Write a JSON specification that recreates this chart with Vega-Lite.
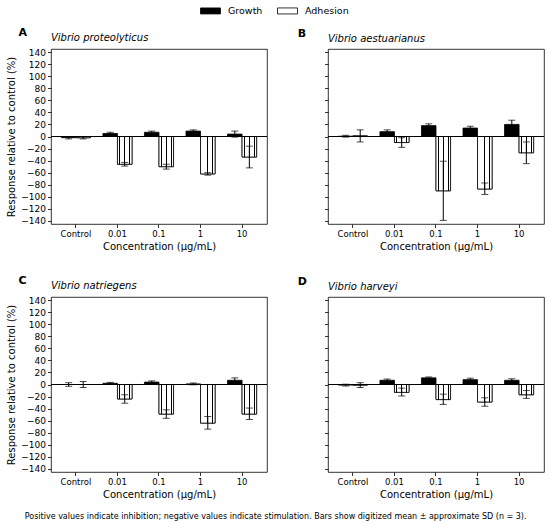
{
  "$schema": "https://vega.github.io/schema/vega-lite/v6.json",
  "padding": {"left": 6, "top": 0, "right": 5, "bottom": 5},
  "data": {
    "values": [
      {"panel": "A", "conc": "Control", "series": "Growth", "value": -2, "lo": -4, "hi": 0},
      {"panel": "A", "conc": "Control", "series": "Adhesion", "value": -2, "lo": -4, "hi": 0},
      {"panel": "A", "conc": "0.01", "series": "Growth", "value": 5, "lo": 3, "hi": 7},
      {"panel": "A", "conc": "0.01", "series": "Adhesion", "value": -46, "lo": -49, "hi": -43},
      {"panel": "A", "conc": "0.1", "series": "Growth", "value": 7, "lo": 5, "hi": 9},
      {"panel": "A", "conc": "0.1", "series": "Adhesion", "value": -50, "lo": -54, "hi": -46},
      {"panel": "A", "conc": "1", "series": "Growth", "value": 9, "lo": 7, "hi": 11},
      {"panel": "A", "conc": "1", "series": "Adhesion", "value": -62, "lo": -64, "hi": -60},
      {"panel": "A", "conc": "10", "series": "Growth", "value": 4, "lo": -1, "hi": 9},
      {"panel": "A", "conc": "10", "series": "Adhesion", "value": -34, "lo": -52, "hi": -16},
      {"panel": "B", "conc": "Control", "series": "Growth", "value": 0.5, "lo": -1, "hi": 2},
      {"panel": "B", "conc": "Control", "series": "Adhesion", "value": 1, "lo": -9, "hi": 11},
      {"panel": "B", "conc": "0.01", "series": "Growth", "value": 8, "lo": 6, "hi": 11},
      {"panel": "B", "conc": "0.01", "series": "Adhesion", "value": -10, "lo": -18, "hi": -2},
      {"panel": "B", "conc": "0.1", "series": "Growth", "value": 18, "lo": 15, "hi": 21},
      {"panel": "B", "conc": "0.1", "series": "Adhesion", "value": -90, "lo": -139, "hi": -41},
      {"panel": "B", "conc": "1", "series": "Growth", "value": 14, "lo": 12, "hi": 17},
      {"panel": "B", "conc": "1", "series": "Adhesion", "value": -87, "lo": -96, "hi": -77},
      {"panel": "B", "conc": "10", "series": "Growth", "value": 20, "lo": 13, "hi": 27},
      {"panel": "B", "conc": "10", "series": "Adhesion", "value": -27, "lo": -45, "hi": -9},
      {"panel": "C", "conc": "Control", "series": "Growth", "value": 0, "lo": -3, "hi": 3},
      {"panel": "C", "conc": "Control", "series": "Adhesion", "value": 0, "lo": -5, "hi": 5},
      {"panel": "C", "conc": "0.01", "series": "Growth", "value": 2, "lo": 1, "hi": 3.5},
      {"panel": "C", "conc": "0.01", "series": "Adhesion", "value": -24, "lo": -31, "hi": -17},
      {"panel": "C", "conc": "0.1", "series": "Growth", "value": 4, "lo": 2, "hi": 6},
      {"panel": "C", "conc": "0.1", "series": "Adhesion", "value": -49, "lo": -56, "hi": -42},
      {"panel": "C", "conc": "1", "series": "Growth", "value": 1, "lo": -0.5, "hi": 2.5},
      {"panel": "C", "conc": "1", "series": "Adhesion", "value": -64, "lo": -74, "hi": -53},
      {"panel": "C", "conc": "10", "series": "Growth", "value": 7, "lo": 3, "hi": 11},
      {"panel": "C", "conc": "10", "series": "Adhesion", "value": -49, "lo": -58, "hi": -39},
      {"panel": "D", "conc": "Control", "series": "Growth", "value": -1, "lo": -2.5, "hi": 0.5},
      {"panel": "D", "conc": "Control", "series": "Adhesion", "value": -1, "lo": -5, "hi": 3},
      {"panel": "D", "conc": "0.01", "series": "Growth", "value": 7, "lo": 5, "hi": 9},
      {"panel": "D", "conc": "0.01", "series": "Adhesion", "value": -13, "lo": -19, "hi": -6},
      {"panel": "D", "conc": "0.1", "series": "Growth", "value": 11, "lo": 9.5, "hi": 12.5},
      {"panel": "D", "conc": "0.1", "series": "Adhesion", "value": -25, "lo": -33, "hi": -16},
      {"panel": "D", "conc": "1", "series": "Growth", "value": 8, "lo": 5.5, "hi": 10.5},
      {"panel": "D", "conc": "1", "series": "Adhesion", "value": -29, "lo": -36, "hi": -22},
      {"panel": "D", "conc": "10", "series": "Growth", "value": 7, "lo": 4.5, "hi": 9.5},
      {"panel": "D", "conc": "10", "series": "Adhesion", "value": -17, "lo": -23, "hi": -10}
    ]
  },
  "title": {
    "text": "Positive values indicate inhibition; negative values indicate stimulation. Bars show digitized mean ± approximate SD (n = 3).",
    "orient": "bottom", "anchor": "middle", "fontSize": 8, "fontWeight": "normal", "offset": 14
  },
  "columns": 2,
  "spacing": {"column": 29, "row": 22},
  "concat": [
    {
      "title": {"text": "A", "anchor": "start", "dx": 12, "offset": -5, "fontSize": 11, "fontWeight": "bold"},
      "vconcat": [{
        "width": 216, "height": 175,
        "title": {"text": "Vibrio proteolyticus", "anchor": "start", "frame": "group", "offset": 5, "fontSize": 10, "fontStyle": "italic", "fontWeight": "normal"},
        "transform": [{"filter": "datum.panel === 'A'"}],
        "layer": [
          {"mark": {"type": "bar", "stroke": "black", "strokeWidth": 0.8},
           "encoding": {
             "x": {"field": "conc", "type": "nominal", "sort": ["Control", "0.01", "0.1", "1", "10"], "scale": {"paddingInner": 0.3, "paddingOuter": 0.25}, "axis": {"title": "Concentration (μg/mL)", "labelAngle": 0}},
             "xOffset": {"field": "series", "type": "nominal", "sort": ["Growth", "Adhesion"], "scale": {"paddingInner": 0, "paddingOuter": 0}},
             "y": {"field": "value", "type": "quantitative", "scale": {"domain": [-145, 145], "nice": false}, "axis": {"title": "Response relative to control (%)", "tickCount": 20, "values": [-140, -120, -100, -80, -60, -40, -20, 0, 20, 40, 60, 80, 100, 120, 140]}},
             "color": {"field": "series", "type": "nominal", "sort": ["Growth", "Adhesion"], "scale": {"domain": ["Growth", "Adhesion"], "range": ["black", "white"]}}
           }},
          {"transform": [{"filter": "datum.series === 'Adhesion'"}],
           "mark": {"type": "bar", "stroke": "black", "strokeWidth": 0.8, "fill": {"gradient": "linear", "x1": 0, "y1": 0, "x2": 1, "y2": 0, "stops": [{"offset": 0, "color": "white"}, {"offset": 0.14, "color": "white"}, {"offset": 0.14, "color": "black"}, {"offset": 0.2, "color": "black"}, {"offset": 0.2, "color": "white"}, {"offset": 0.47, "color": "white"}, {"offset": 0.47, "color": "black"}, {"offset": 0.53, "color": "black"}, {"offset": 0.53, "color": "white"}, {"offset": 0.8, "color": "white"}, {"offset": 0.8, "color": "black"}, {"offset": 0.86, "color": "black"}, {"offset": 0.86, "color": "white"}, {"offset": 1, "color": "white"}]}},
           "encoding": {
             "x": {"field": "conc", "type": "nominal", "sort": ["Control", "0.01", "0.1", "1", "10"]},
             "xOffset": {"field": "series", "type": "nominal", "sort": ["Growth", "Adhesion"]},
             "y": {"field": "value", "type": "quantitative", "title": "Response relative to control (%)"}
           }},
          {"mark": {"type": "rule", "color": "black", "strokeWidth": 1}, "encoding": {"y": {"datum": 0}}},
          {"mark": {"type": "rule", "color": "black", "strokeWidth": 1},
           "encoding": {
             "x": {"field": "conc", "type": "nominal", "sort": ["Control", "0.01", "0.1", "1", "10"]},
             "xOffset": {"field": "series", "type": "nominal", "sort": ["Growth", "Adhesion"]},
             "y": {"field": "lo", "type": "quantitative", "title": "Response relative to control (%)"},
             "y2": {"field": "hi"}
           }},
          {"mark": {"type": "tick", "color": "black", "size": 7, "thickness": 1},
           "encoding": {
             "x": {"field": "conc", "type": "nominal", "sort": ["Control", "0.01", "0.1", "1", "10"]},
             "xOffset": {"field": "series", "type": "nominal", "sort": ["Growth", "Adhesion"]},
             "y": {"field": "lo", "type": "quantitative", "title": "Response relative to control (%)"}
           }},
          {"mark": {"type": "tick", "color": "black", "size": 7, "thickness": 1},
           "encoding": {
             "x": {"field": "conc", "type": "nominal", "sort": ["Control", "0.01", "0.1", "1", "10"]},
             "xOffset": {"field": "series", "type": "nominal", "sort": ["Growth", "Adhesion"]},
             "y": {"field": "hi", "type": "quantitative", "title": "Response relative to control (%)"}
           }}
        ]
      }]
    },
    {
      "title": {"text": "B", "anchor": "start", "dx": -26, "offset": -5, "fontSize": 11, "fontWeight": "bold"},
      "vconcat": [{
        "width": 216, "height": 175,
        "title": {"text": "Vibrio aestuarianus", "anchor": "start", "frame": "group", "offset": 5, "fontSize": 10, "fontStyle": "italic", "fontWeight": "normal"},
        "transform": [{"filter": "datum.panel === 'B'"}],
        "layer": [
          {"mark": {"type": "bar", "stroke": "black", "strokeWidth": 0.8},
           "encoding": {
             "x": {"field": "conc", "type": "nominal", "sort": ["Control", "0.01", "0.1", "1", "10"], "scale": {"paddingInner": 0.3, "paddingOuter": 0.25}, "axis": {"title": "Concentration (μg/mL)", "labelAngle": 0}},
             "xOffset": {"field": "series", "type": "nominal", "sort": ["Growth", "Adhesion"], "scale": {"paddingInner": 0, "paddingOuter": 0}},
             "y": {"field": "value", "type": "quantitative", "scale": {"domain": [-145, 145], "nice": false}, "axis": {"title": null, "labels": false, "tickCount": 20, "values": [-140, -120, -100, -80, -60, -40, -20, 0, 20, 40, 60, 80, 100, 120, 140]}},
             "color": {"field": "series", "type": "nominal", "sort": ["Growth", "Adhesion"]}
           }},
          {"transform": [{"filter": "datum.series === 'Adhesion'"}],
           "mark": {"type": "bar", "stroke": "black", "strokeWidth": 0.8, "fill": {"gradient": "linear", "x1": 0, "y1": 0, "x2": 1, "y2": 0, "stops": [{"offset": 0, "color": "white"}, {"offset": 0.14, "color": "white"}, {"offset": 0.14, "color": "black"}, {"offset": 0.2, "color": "black"}, {"offset": 0.2, "color": "white"}, {"offset": 0.47, "color": "white"}, {"offset": 0.47, "color": "black"}, {"offset": 0.53, "color": "black"}, {"offset": 0.53, "color": "white"}, {"offset": 0.8, "color": "white"}, {"offset": 0.8, "color": "black"}, {"offset": 0.86, "color": "black"}, {"offset": 0.86, "color": "white"}, {"offset": 1, "color": "white"}]}},
           "encoding": {
             "x": {"field": "conc", "type": "nominal", "sort": ["Control", "0.01", "0.1", "1", "10"]},
             "xOffset": {"field": "series", "type": "nominal", "sort": ["Growth", "Adhesion"]},
             "y": {"field": "value", "type": "quantitative", "title": null}
           }},
          {"mark": {"type": "rule", "color": "black", "strokeWidth": 1}, "encoding": {"y": {"datum": 0}}},
          {"mark": {"type": "rule", "color": "black", "strokeWidth": 1},
           "encoding": {
             "x": {"field": "conc", "type": "nominal", "sort": ["Control", "0.01", "0.1", "1", "10"]},
             "xOffset": {"field": "series", "type": "nominal", "sort": ["Growth", "Adhesion"]},
             "y": {"field": "lo", "type": "quantitative", "title": null},
             "y2": {"field": "hi"}
           }},
          {"mark": {"type": "tick", "color": "black", "size": 7, "thickness": 1},
           "encoding": {
             "x": {"field": "conc", "type": "nominal", "sort": ["Control", "0.01", "0.1", "1", "10"]},
             "xOffset": {"field": "series", "type": "nominal", "sort": ["Growth", "Adhesion"]},
             "y": {"field": "lo", "type": "quantitative", "title": null}
           }},
          {"mark": {"type": "tick", "color": "black", "size": 7, "thickness": 1},
           "encoding": {
             "x": {"field": "conc", "type": "nominal", "sort": ["Control", "0.01", "0.1", "1", "10"]},
             "xOffset": {"field": "series", "type": "nominal", "sort": ["Growth", "Adhesion"]},
             "y": {"field": "hi", "type": "quantitative", "title": null}
           }}
        ]
      }]
    },
    {
      "title": {"text": "C", "anchor": "start", "dx": 12, "offset": -5, "fontSize": 11, "fontWeight": "bold"},
      "vconcat": [{
        "width": 216, "height": 175,
        "title": {"text": "Vibrio natriegens", "anchor": "start", "frame": "group", "offset": 5, "fontSize": 10, "fontStyle": "italic", "fontWeight": "normal"},
        "transform": [{"filter": "datum.panel === 'C'"}],
        "layer": [
          {"mark": {"type": "bar", "stroke": "black", "strokeWidth": 0.8},
           "encoding": {
             "x": {"field": "conc", "type": "nominal", "sort": ["Control", "0.01", "0.1", "1", "10"], "scale": {"paddingInner": 0.3, "paddingOuter": 0.25}, "axis": {"title": "Concentration (μg/mL)", "labelAngle": 0}},
             "xOffset": {"field": "series", "type": "nominal", "sort": ["Growth", "Adhesion"], "scale": {"paddingInner": 0, "paddingOuter": 0}},
             "y": {"field": "value", "type": "quantitative", "scale": {"domain": [-145, 145], "nice": false}, "axis": {"title": "Response relative to control (%)", "tickCount": 20, "values": [-140, -120, -100, -80, -60, -40, -20, 0, 20, 40, 60, 80, 100, 120, 140]}},
             "color": {"field": "series", "type": "nominal", "sort": ["Growth", "Adhesion"]}
           }},
          {"transform": [{"filter": "datum.series === 'Adhesion'"}],
           "mark": {"type": "bar", "stroke": "black", "strokeWidth": 0.8, "fill": {"gradient": "linear", "x1": 0, "y1": 0, "x2": 1, "y2": 0, "stops": [{"offset": 0, "color": "white"}, {"offset": 0.14, "color": "white"}, {"offset": 0.14, "color": "black"}, {"offset": 0.2, "color": "black"}, {"offset": 0.2, "color": "white"}, {"offset": 0.47, "color": "white"}, {"offset": 0.47, "color": "black"}, {"offset": 0.53, "color": "black"}, {"offset": 0.53, "color": "white"}, {"offset": 0.8, "color": "white"}, {"offset": 0.8, "color": "black"}, {"offset": 0.86, "color": "black"}, {"offset": 0.86, "color": "white"}, {"offset": 1, "color": "white"}]}},
           "encoding": {
             "x": {"field": "conc", "type": "nominal", "sort": ["Control", "0.01", "0.1", "1", "10"]},
             "xOffset": {"field": "series", "type": "nominal", "sort": ["Growth", "Adhesion"]},
             "y": {"field": "value", "type": "quantitative", "title": "Response relative to control (%)"}
           }},
          {"mark": {"type": "rule", "color": "black", "strokeWidth": 1}, "encoding": {"y": {"datum": 0}}},
          {"mark": {"type": "rule", "color": "black", "strokeWidth": 1},
           "encoding": {
             "x": {"field": "conc", "type": "nominal", "sort": ["Control", "0.01", "0.1", "1", "10"]},
             "xOffset": {"field": "series", "type": "nominal", "sort": ["Growth", "Adhesion"]},
             "y": {"field": "lo", "type": "quantitative", "title": "Response relative to control (%)"},
             "y2": {"field": "hi"}
           }},
          {"mark": {"type": "tick", "color": "black", "size": 7, "thickness": 1},
           "encoding": {
             "x": {"field": "conc", "type": "nominal", "sort": ["Control", "0.01", "0.1", "1", "10"]},
             "xOffset": {"field": "series", "type": "nominal", "sort": ["Growth", "Adhesion"]},
             "y": {"field": "lo", "type": "quantitative", "title": "Response relative to control (%)"}
           }},
          {"mark": {"type": "tick", "color": "black", "size": 7, "thickness": 1},
           "encoding": {
             "x": {"field": "conc", "type": "nominal", "sort": ["Control", "0.01", "0.1", "1", "10"]},
             "xOffset": {"field": "series", "type": "nominal", "sort": ["Growth", "Adhesion"]},
             "y": {"field": "hi", "type": "quantitative", "title": "Response relative to control (%)"}
           }}
        ]
      }]
    },
    {
      "title": {"text": "D", "anchor": "start", "dx": -26, "offset": -5, "fontSize": 11, "fontWeight": "bold"},
      "vconcat": [{
        "width": 216, "height": 175,
        "title": {"text": "Vibrio harveyi", "anchor": "start", "frame": "group", "offset": 5, "fontSize": 10, "fontStyle": "italic", "fontWeight": "normal"},
        "transform": [{"filter": "datum.panel === 'D'"}],
        "layer": [
          {"mark": {"type": "bar", "stroke": "black", "strokeWidth": 0.8},
           "encoding": {
             "x": {"field": "conc", "type": "nominal", "sort": ["Control", "0.01", "0.1", "1", "10"], "scale": {"paddingInner": 0.3, "paddingOuter": 0.25}, "axis": {"title": "Concentration (μg/mL)", "labelAngle": 0}},
             "xOffset": {"field": "series", "type": "nominal", "sort": ["Growth", "Adhesion"], "scale": {"paddingInner": 0, "paddingOuter": 0}},
             "y": {"field": "value", "type": "quantitative", "scale": {"domain": [-145, 145], "nice": false}, "axis": {"title": null, "labels": false, "tickCount": 20, "values": [-140, -120, -100, -80, -60, -40, -20, 0, 20, 40, 60, 80, 100, 120, 140]}},
             "color": {"field": "series", "type": "nominal", "sort": ["Growth", "Adhesion"]}
           }},
          {"transform": [{"filter": "datum.series === 'Adhesion'"}],
           "mark": {"type": "bar", "stroke": "black", "strokeWidth": 0.8, "fill": {"gradient": "linear", "x1": 0, "y1": 0, "x2": 1, "y2": 0, "stops": [{"offset": 0, "color": "white"}, {"offset": 0.14, "color": "white"}, {"offset": 0.14, "color": "black"}, {"offset": 0.2, "color": "black"}, {"offset": 0.2, "color": "white"}, {"offset": 0.47, "color": "white"}, {"offset": 0.47, "color": "black"}, {"offset": 0.53, "color": "black"}, {"offset": 0.53, "color": "white"}, {"offset": 0.8, "color": "white"}, {"offset": 0.8, "color": "black"}, {"offset": 0.86, "color": "black"}, {"offset": 0.86, "color": "white"}, {"offset": 1, "color": "white"}]}},
           "encoding": {
             "x": {"field": "conc", "type": "nominal", "sort": ["Control", "0.01", "0.1", "1", "10"]},
             "xOffset": {"field": "series", "type": "nominal", "sort": ["Growth", "Adhesion"]},
             "y": {"field": "value", "type": "quantitative", "title": null}
           }},
          {"mark": {"type": "rule", "color": "black", "strokeWidth": 1}, "encoding": {"y": {"datum": 0}}},
          {"mark": {"type": "rule", "color": "black", "strokeWidth": 1},
           "encoding": {
             "x": {"field": "conc", "type": "nominal", "sort": ["Control", "0.01", "0.1", "1", "10"]},
             "xOffset": {"field": "series", "type": "nominal", "sort": ["Growth", "Adhesion"]},
             "y": {"field": "lo", "type": "quantitative", "title": null},
             "y2": {"field": "hi"}
           }},
          {"mark": {"type": "tick", "color": "black", "size": 7, "thickness": 1},
           "encoding": {
             "x": {"field": "conc", "type": "nominal", "sort": ["Control", "0.01", "0.1", "1", "10"]},
             "xOffset": {"field": "series", "type": "nominal", "sort": ["Growth", "Adhesion"]},
             "y": {"field": "lo", "type": "quantitative", "title": null}
           }},
          {"mark": {"type": "tick", "color": "black", "size": 7, "thickness": 1},
           "encoding": {
             "x": {"field": "conc", "type": "nominal", "sort": ["Control", "0.01", "0.1", "1", "10"]},
             "xOffset": {"field": "series", "type": "nominal", "sort": ["Growth", "Adhesion"]},
             "y": {"field": "hi", "type": "quantitative", "title": null}
           }}
        ]
      }]
    }
  ],
  "config": {
    "font": "DejaVu Sans",
    "view": {"stroke": "black", "strokeWidth": 0.8},
    "axis": {
      "grid": false, "domain": false, "tickColor": "black", "tickSize": 3.5, "tickWidth": 0.8,
      "labelColor": "black", "labelFontSize": 8.5, "labelPadding": 2, "labelOverlap": false,
      "titleColor": "black", "titleFontWeight": "normal"
    },
    "axisX": {"titleFontSize": 10, "titlePadding": 3},
    "axisY": {"labelFontSize": 9, "titleFontSize": 10, "titlePadding": 4, "tickCount": 20},
    "legend": {
      "orient": "none", "legendX": 149, "legendY": -49, "direction": "horizontal", "title": null,
      "symbolType": "M-1,-0.3H1V0.3H-1Z", "symbolSize": 400, "symbolStrokeColor": "black", "symbolStrokeWidth": 0.8,
      "labelFontSize": 9.5, "labelColor": "black", "columnPadding": 12, "labelOffset": 7
    }
  }
}
